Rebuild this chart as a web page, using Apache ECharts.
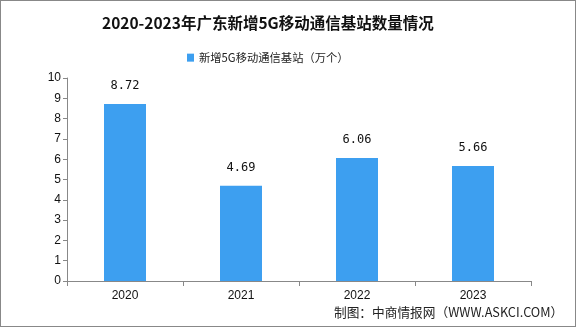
<!DOCTYPE html>
<html><head><meta charset="utf-8">
<script src="https://cdn.jsdelivr.net/npm/echarts@6/dist/echarts.min.js"></script>
<style>html,body{margin:0;padding:0;background:#fff}#c{width:576px;height:327px;box-sizing:border-box;border:1px solid #888}</style>
</head><body><div id="c"></div>
<script>
var categories = ['2020', '2021', '2022', '2023'];
var values = [8.72, 4.69, 6.06, 5.66];
var seriesName = '新增5G移动通信基站（万个）';
var chart = echarts.init(document.getElementById('c'));
chart.setOption({
  animation: false,
  title: {
    text: '2020-2023年广东新增5G移动通信基站数量情况',
    left: 96, top: 9,
    textStyle: {fontFamily: 'Noto Sans CJK SC', fontWeight: 'bold', fontSize: 15.5, color: '#111'}
  },
  legend: {
    top: 46, left: 181, itemWidth: 7, itemHeight: 8, itemGap: 3,
    icon: 'rect',
    textStyle: {fontFamily: 'Noto Sans CJK SC', fontSize: 11.3, color: '#222'}
  },
  graphic: [{
    type: 'text', left: 333, top: 305,
    style: {text: '制图：中商情报网（WWW.ASKCI.COM）', fontFamily: 'Noto Sans CJK SC', fontSize: 12.7, fill: '#222'}
  }],
  grid: {left: 66, right: 44, top: 77, bottom: 45},
  xAxis: {
    type: 'category', data: categories,
    axisLine: {lineStyle: {color: '#888'}},
    axisTick: {show: true, alignWithLabel: false, length: 5, lineStyle: {color: '#888'}},
    axisLabel: {color: '#111', fontSize: 12, fontFamily: 'Liberation Sans', margin: 9}
  },
  yAxis: {
    type: 'value', min: 0, max: 10, interval: 1,
    axisLine: {show: true, lineStyle: {color: '#888'}},
    axisTick: {show: true, length: 4, lineStyle: {color: '#888'}},
    splitLine: {show: false},
    axisLabel: {color: '#111', fontSize: 12, fontFamily: 'Liberation Sans', margin: 6}
  },
  series: [{
    name: seriesName, type: 'bar', data: values, barWidth: 42,
    itemStyle: {color: '#3d9ff0'},
    label: {show: true, position: 'top', distance: 12, color: '#111', fontSize: 12, fontFamily: 'DejaVu Sans Mono', formatter: function(p){return p.value.toFixed(2);}}
  }]
});
</script></body></html>
